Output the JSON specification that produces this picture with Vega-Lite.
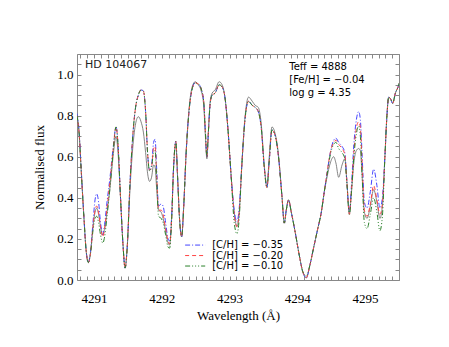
{
  "$schema": "https://vega.github.io/schema/vega-lite/v6.json",
  "width": 322,
  "height": 226,
  "autosize": "none",
  "padding": {"left": 77, "top": 54, "right": 50, "bottom": 67},
  "background": "white",
  "config": {"view": {"stroke": null}},
  "data": {"values": [
    {"wl":4290.750,"obs":0.80,"b":0.81,"r":0.80,"g":0.80},
    {"wl":4290.780,"obs":0.72,"b":0.73,"r":0.72,"g":0.72},
    {"wl":4290.809,"obs":0.55,"b":0.56,"r":0.55,"g":0.55},
    {"wl":4290.853,"obs":0.30,"b":0.30,"r":0.30,"g":0.30},
    {"wl":4290.883,"obs":0.15,"b":0.15,"r":0.15,"g":0.15},
    {"wl":4290.917,"obs":0.085,"b":0.085,"r":0.085,"g":0.085},
    {"wl":4290.949,"obs":0.13,"b":0.14,"r":0.13,"g":0.13},
    {"wl":4290.986,"obs":0.26,"b":0.28,"r":0.26,"g":0.24},
    {"wl":4291.016,"obs":0.33,"b":0.39,"r":0.34,"g":0.30},
    {"wl":4291.041,"obs":0.35,"b":0.42,"r":0.36,"g":0.31},
    {"wl":4291.068,"obs":0.32,"b":0.38,"r":0.33,"g":0.28},
    {"wl":4291.097,"obs":0.26,"b":0.28,"r":0.26,"g":0.22},
    {"wl":4291.130,"obs":0.22,"b":0.22,"r":0.21,"g":0.18},
    {"wl":4291.157,"obs":0.25,"b":0.27,"r":0.25,"g":0.21},
    {"wl":4291.193,"obs":0.33,"b":0.38,"r":0.35,"g":0.31},
    {"wl":4291.237,"obs":0.45,"b":0.50,"r":0.48,"g":0.45},
    {"wl":4291.282,"obs":0.60,"b":0.64,"r":0.63,"g":0.62},
    {"wl":4291.326,"obs":0.70,"b":0.745,"r":0.745,"g":0.745},
    {"wl":4291.355,"obs":0.62,"b":0.66,"r":0.66,"g":0.66},
    {"wl":4291.392,"obs":0.40,"b":0.40,"r":0.40,"g":0.40},
    {"wl":4291.429,"obs":0.17,"b":0.17,"r":0.17,"g":0.17},
    {"wl":4291.459,"obs":0.058,"b":0.058,"r":0.058,"g":0.058},
    {"wl":4291.489,"obs":0.15,"b":0.15,"r":0.15,"g":0.15},
    {"wl":4291.533,"obs":0.45,"b":0.48,"r":0.48,"g":0.48},
    {"wl":4291.577,"obs":0.66,"b":0.72,"r":0.72,"g":0.72},
    {"wl":4291.614,"obs":0.76,"b":0.84,"r":0.84,"g":0.84},
    {"wl":4291.655,"obs":0.795,"b":0.90,"r":0.90,"g":0.90},
    {"wl":4291.695,"obs":0.77,"b":0.925,"r":0.925,"g":0.925},
    {"wl":4291.729,"obs":0.72,"b":0.92,"r":0.92,"g":0.92},
    {"wl":4291.762,"obs":0.62,"b":0.82,"r":0.82,"g":0.82},
    {"wl":4291.791,"obs":0.52,"b":0.62,"r":0.62,"g":0.62},
    {"wl":4291.821,"obs":0.48,"b":0.535,"r":0.535,"g":0.53},
    {"wl":4291.850,"obs":0.50,"b":0.56,"r":0.55,"g":0.55},
    {"wl":4291.880,"obs":0.56,"b":0.67,"r":0.64,"g":0.62},
    {"wl":4291.902,"obs":0.55,"b":0.685,"r":0.65,"g":0.63},
    {"wl":4291.924,"obs":0.45,"b":0.55,"r":0.52,"g":0.50},
    {"wl":4291.953,"obs":0.34,"b":0.36,"r":0.34,"g":0.31},
    {"wl":4291.991,"obs":0.33,"b":0.37,"r":0.34,"g":0.30},
    {"wl":4292.020,"obs":0.30,"b":0.36,"r":0.32,"g":0.28},
    {"wl":4292.057,"obs":0.24,"b":0.28,"r":0.25,"g":0.22},
    {"wl":4292.094,"obs":0.18,"b":0.20,"r":0.19,"g":0.16},
    {"wl":4292.116,"obs":0.17,"b":0.19,"r":0.175,"g":0.155},
    {"wl":4292.146,"obs":0.30,"b":0.31,"r":0.30,"g":0.29},
    {"wl":4292.175,"obs":0.55,"b":0.55,"r":0.55,"g":0.55},
    {"wl":4292.208,"obs":0.66,"b":0.675,"r":0.675,"g":0.675},
    {"wl":4292.234,"obs":0.50,"b":0.50,"r":0.50,"g":0.50},
    {"wl":4292.264,"obs":0.29,"b":0.29,"r":0.29,"g":0.29},
    {"wl":4292.294,"obs":0.21,"b":0.21,"r":0.21,"g":0.21},
    {"wl":4292.323,"obs":0.35,"b":0.35,"r":0.35,"g":0.35},
    {"wl":4292.360,"obs":0.62,"b":0.62,"r":0.62,"g":0.62},
    {"wl":4292.405,"obs":0.84,"b":0.83,"r":0.83,"g":0.83},
    {"wl":4292.449,"obs":0.94,"b":0.93,"r":0.93,"g":0.93},
    {"wl":4292.493,"obs":0.965,"b":0.96,"r":0.96,"g":0.96},
    {"wl":4292.537,"obs":0.95,"b":0.955,"r":0.955,"g":0.955},
    {"wl":4292.582,"obs":0.92,"b":0.93,"r":0.93,"g":0.93},
    {"wl":4292.619,"obs":0.85,"b":0.87,"r":0.87,"g":0.87},
    {"wl":4292.644,"obs":0.70,"b":0.72,"r":0.72,"g":0.72},
    {"wl":4292.666,"obs":0.59,"b":0.60,"r":0.60,"g":0.60},
    {"wl":4292.688,"obs":0.72,"b":0.72,"r":0.72,"g":0.72},
    {"wl":4292.715,"obs":0.87,"b":0.86,"r":0.86,"g":0.86},
    {"wl":4292.744,"obs":0.91,"b":0.90,"r":0.90,"g":0.90},
    {"wl":4292.788,"obs":0.925,"b":0.91,"r":0.91,"g":0.91},
    {"wl":4292.847,"obs":0.965,"b":0.95,"r":0.95,"g":0.95},
    {"wl":4292.891,"obs":0.95,"b":0.94,"r":0.94,"g":0.94},
    {"wl":4292.936,"obs":0.88,"b":0.88,"r":0.88,"g":0.88},
    {"wl":4292.980,"obs":0.72,"b":0.72,"r":0.72,"g":0.72},
    {"wl":4293.025,"obs":0.50,"b":0.50,"r":0.50,"g":0.50},
    {"wl":4293.069,"obs":0.33,"b":0.34,"r":0.32,"g":0.28},
    {"wl":4293.109,"obs":0.26,"b":0.285,"r":0.26,"g":0.225},
    {"wl":4293.143,"obs":0.33,"b":0.35,"r":0.33,"g":0.30},
    {"wl":4293.180,"obs":0.55,"b":0.55,"r":0.55,"g":0.55},
    {"wl":4293.225,"obs":0.78,"b":0.77,"r":0.77,"g":0.77},
    {"wl":4293.280,"obs":0.89,"b":0.87,"r":0.87,"g":0.87},
    {"wl":4293.335,"obs":0.87,"b":0.85,"r":0.85,"g":0.85},
    {"wl":4293.379,"obs":0.85,"b":0.84,"r":0.84,"g":0.84},
    {"wl":4293.424,"obs":0.84,"b":0.82,"r":0.82,"g":0.82},
    {"wl":4293.468,"obs":0.76,"b":0.74,"r":0.74,"g":0.74},
    {"wl":4293.512,"obs":0.56,"b":0.55,"r":0.55,"g":0.55},
    {"wl":4293.552,"obs":0.455,"b":0.45,"r":0.45,"g":0.45},
    {"wl":4293.586,"obs":0.60,"b":0.58,"r":0.58,"g":0.58},
    {"wl":4293.626,"obs":0.745,"b":0.73,"r":0.73,"g":0.73},
    {"wl":4293.667,"obs":0.72,"b":0.71,"r":0.71,"g":0.71},
    {"wl":4293.719,"obs":0.62,"b":0.61,"r":0.61,"g":0.61},
    {"wl":4293.774,"obs":0.405,"b":0.405,"r":0.405,"g":0.405},
    {"wl":4293.808,"obs":0.277,"b":0.277,"r":0.277,"g":0.277},
    {"wl":4293.837,"obs":0.34,"b":0.34,"r":0.34,"g":0.34},
    {"wl":4293.871,"obs":0.39,"b":0.39,"r":0.39,"g":0.39},
    {"wl":4293.911,"obs":0.33,"b":0.33,"r":0.33,"g":0.33},
    {"wl":4293.970,"obs":0.23,"b":0.23,"r":0.23,"g":0.23},
    {"wl":4294.029,"obs":0.12,"b":0.12,"r":0.12,"g":0.12},
    {"wl":4294.081,"obs":0.04,"b":0.04,"r":0.04,"g":0.04},
    {"wl":4294.133,"obs":0.01,"b":0.01,"r":0.012,"g":0.02},
    {"wl":4294.184,"obs":0.07,"b":0.07,"r":0.07,"g":0.07},
    {"wl":4294.236,"obs":0.15,"b":0.15,"r":0.15,"g":0.15},
    {"wl":4294.295,"obs":0.24,"b":0.24,"r":0.24,"g":0.24},
    {"wl":4294.354,"obs":0.33,"b":0.33,"r":0.33,"g":0.33},
    {"wl":4294.398,"obs":0.43,"b":0.43,"r":0.43,"g":0.43},
    {"wl":4294.438,"obs":0.50,"b":0.52,"r":0.52,"g":0.51},
    {"wl":4294.487,"obs":0.57,"b":0.62,"r":0.62,"g":0.61},
    {"wl":4294.536,"obs":0.60,"b":0.68,"r":0.67,"g":0.66},
    {"wl":4294.569,"obs":0.57,"b":0.69,"r":0.68,"g":0.67},
    {"wl":4294.610,"obs":0.50,"b":0.67,"r":0.66,"g":0.64},
    {"wl":4294.660,"obs":0.56,"b":0.65,"r":0.64,"g":0.62},
    {"wl":4294.701,"obs":0.59,"b":0.62,"r":0.61,"g":0.59},
    {"wl":4294.731,"obs":0.48,"b":0.48,"r":0.48,"g":0.47},
    {"wl":4294.768,"obs":0.32,"b":0.33,"r":0.32,"g":0.32},
    {"wl":4294.797,"obs":0.42,"b":0.45,"r":0.43,"g":0.42},
    {"wl":4294.834,"obs":0.57,"b":0.66,"r":0.62,"g":0.60},
    {"wl":4294.871,"obs":0.63,"b":0.78,"r":0.74,"g":0.71},
    {"wl":4294.905,"obs":0.64,"b":0.82,"r":0.77,"g":0.75},
    {"wl":4294.930,"obs":0.63,"b":0.78,"r":0.74,"g":0.70},
    {"wl":4294.957,"obs":0.50,"b":0.60,"r":0.56,"g":0.50},
    {"wl":4294.989,"obs":0.33,"b":0.38,"r":0.34,"g":0.28},
    {"wl":4295.029,"obs":0.30,"b":0.35,"r":0.31,"g":0.25},
    {"wl":4295.077,"obs":0.36,"b":0.43,"r":0.37,"g":0.32},
    {"wl":4295.126,"obs":0.44,"b":0.54,"r":0.46,"g":0.40},
    {"wl":4295.174,"obs":0.38,"b":0.46,"r":0.39,"g":0.33},
    {"wl":4295.218,"obs":0.30,"b":0.35,"r":0.32,"g":0.24},
    {"wl":4295.255,"obs":0.36,"b":0.40,"r":0.37,"g":0.31},
    {"wl":4295.292,"obs":0.60,"b":0.60,"r":0.60,"g":0.60},
    {"wl":4295.322,"obs":0.80,"b":0.80,"r":0.80,"g":0.80},
    {"wl":4295.348,"obs":0.89,"b":0.89,"r":0.89,"g":0.89},
    {"wl":4295.378,"obs":0.88,"b":0.88,"r":0.88,"g":0.88},
    {"wl":4295.407,"obs":0.86,"b":0.86,"r":0.86,"g":0.86},
    {"wl":4295.447,"obs":0.91,"b":0.91,"r":0.91,"g":0.91},
    {"wl":4295.487,"obs":0.94,"b":0.94,"r":0.94,"g":0.94},
    {"wl":4295.506,"obs":0.96,"b":0.96,"r":0.96,"g":0.96}
  ]},
  "resolve": {"axis": {"x": "independent", "y": "independent"}},
  "layer": [
    {
      "mark": {"type": "line", "color": "#666666", "strokeWidth": 0.8, "interpolate": "monotone", "clip": true},
      "encoding": {
        "x": {"field": "wl", "type": "quantitative",
          "scale": {"domain": [4290.75, 4295.5], "nice": false, "zero": false},
          "axis": {"orient": "bottom", "title": "Wavelength (Å)",
            "values": [4290.8,4290.9,4291,4291.1,4291.2,4291.3,4291.4,4291.5,4291.6,4291.7,4291.8,4291.9,4292,4292.1,4292.2,4292.3,4292.4,4292.5,4292.6,4292.7,4292.8,4292.9,4293,4293.1,4293.2,4293.3,4293.4,4293.5,4293.6,4293.7,4293.8,4293.9,4294,4294.1,4294.2,4294.3,4294.4,4294.5,4294.6,4294.7,4294.8,4294.9,4295,4295.1,4295.2,4295.3,4295.4,4295.5],
            "labelExpr": "abs(datum.value - round(datum.value)) < 0.01 ? format(datum.value, 'd') : ''",
            "tickSize": -4, "labelPadding": 16, "domainColor": "#888888", "tickColor": "#888888",
            "labelFont": "Liberation Serif", "labelFontSize": 13, "labelColor": "#000000", "labelOverlap": false,
            "titleFont": "Liberation Serif", "titleFontSize": 13, "titleFontWeight": "normal", "titleColor": "#000000", "titlePadding": 4, "grid": false}
        },
        "y": {"field": "obs", "type": "quantitative",
          "scale": {"domain": [0, 1.1], "nice": false, "zero": false},
          "axis": {"orient": "left", "title": "Normalised flux",
            "values": [0,0.05,0.1,0.15,0.2,0.25,0.3,0.35,0.4,0.45,0.5,0.55,0.6,0.65,0.7,0.75,0.8,0.85,0.9,0.95,1.0,1.05,1.1],
            "labelExpr": "round(datum.value * 20) % 4 == 0 ? format(datum.value, '.1f') : ''",
            "tickSize": -4, "labelPadding": 8, "domainColor": "#888888", "tickColor": "#888888",
            "labelFont": "Liberation Serif", "labelFontSize": 13, "labelColor": "#000000", "labelOverlap": false,
            "titleFont": "Liberation Serif", "titleFontSize": 13, "titleFontWeight": "normal", "titleColor": "#000000", "titlePadding": 10, "grid": false}
        }
      }
    },
    {
      "transform": [{"fold": ["b", "r", "g"], "as": ["model", "flux"]}],
      "mark": {"type": "line", "strokeWidth": 1, "interpolate": "monotone", "clip": true},
      "encoding": {
        "x": {"field": "wl", "type": "quantitative",
          "scale": {"domain": [4290.75, 4295.5], "nice": false, "zero": false},
          "axis": {"orient": "top", "title": null, "labels": false,
            "values": [4290.8,4290.9,4291,4291.1,4291.2,4291.3,4291.4,4291.5,4291.6,4291.7,4291.8,4291.9,4292,4292.1,4292.2,4292.3,4292.4,4292.5,4292.6,4292.7,4292.8,4292.9,4293,4293.1,4293.2,4293.3,4293.4,4293.5,4293.6,4293.7,4293.8,4293.9,4294,4294.1,4294.2,4294.3,4294.4,4294.5,4294.6,4294.7,4294.8,4294.9,4295,4295.1,4295.2,4295.3,4295.4,4295.5],
            "tickSize": -4, "domainColor": "#888888", "tickColor": "#888888", "grid": false}
        },
        "y": {"field": "flux", "type": "quantitative",
          "scale": {"domain": [0, 1.1], "nice": false, "zero": false},
          "axis": {"orient": "right", "title": null, "labels": false,
            "values": [0,0.05,0.1,0.15,0.2,0.25,0.3,0.35,0.4,0.45,0.5,0.55,0.6,0.65,0.7,0.75,0.8,0.85,0.9,0.95,1.0,1.05,1.1],
            "tickSize": -4, "domainColor": "#888888", "tickColor": "#888888", "grid": false}
        },
        "color": {"field": "model", "type": "nominal",
          "scale": {"domain": ["b", "r", "g"], "range": ["#4444ff", "#ff4444", "#2a802a"]},
          "legend": null
        },
        "strokeDash": {"field": "model", "type": "nominal",
          "scale": {"domain": ["b", "r", "g"], "range": [[5, 2, 1, 2], [4, 3], [5, 2, 1, 2, 1, 2, 1, 2]]},
          "legend": null
        }
      }
    },
    {
      "data": {"values": [{}]},
      "mark": {"type": "rule", "color": "#4444ff", "strokeWidth": 1, "strokeDash": [5, 2, 1, 2]},
      "encoding": {
        "x": {"datum": 4292.345, "type": "quantitative", "axis": null},
        "x2": {"datum": 4292.641},
        "y": {"datum": 0.170, "type": "quantitative", "axis": null}
      }
    },
    {
      "data": {"values": [{}]},
      "mark": {"type": "rule", "color": "#ff4444", "strokeWidth": 1, "strokeDash": [4, 3]},
      "encoding": {
        "x": {"datum": 4292.345, "type": "quantitative", "axis": null},
        "x2": {"datum": 4292.641},
        "y": {"datum": 0.119, "type": "quantitative", "axis": null}
      }
    },
    {
      "data": {"values": [{}]},
      "mark": {"type": "rule", "color": "#2a802a", "strokeWidth": 1, "strokeDash": [5, 2, 1, 2, 1, 2, 1, 2]},
      "encoding": {
        "x": {"datum": 4292.345, "type": "quantitative", "axis": null},
        "x2": {"datum": 4292.641},
        "y": {"datum": 0.068, "type": "quantitative", "axis": null}
      }
    },
    {
      "data": {"values": [{}]},
      "mark": {"type": "text", "align": "left", "baseline": "middle", "font": "DejaVu Sans", "fontSize": 10, "lineHeight": 10.5, "color": "#000000"},
      "encoding": {
        "x": {"datum": 4292.744, "type": "quantitative", "axis": null},
        "y": {"datum": 0.170, "type": "quantitative", "axis": null},
        "text": {"value": ["[C/H] = \u22120.35", "[C/H] = \u22120.20", "[C/H] = \u22120.10"]}
      }
    },
    {
      "data": {"values": [{}]},
      "mark": {"type": "text", "align": "left", "baseline": "alphabetic", "font": "DejaVu Sans", "fontSize": 11, "color": "#222222"},
      "encoding": {
        "x": {"datum": 4290.868, "type": "quantitative", "axis": null},
        "y": {"datum": 1.032, "type": "quantitative", "axis": null},
        "text": {"value": "HD  104067"}
      }
    },
    {
      "data": {"values": [{}]},
      "mark": {"type": "text", "align": "left", "baseline": "alphabetic", "font": "DejaVu Sans", "fontSize": 10, "lineHeight": 13, "color": "#000000"},
      "encoding": {
        "x": {"datum": 4293.881, "type": "quantitative", "axis": null},
        "y": {"datum": 1.022, "type": "quantitative", "axis": null},
        "text": {"value": ["Teff = 4888", "[Fe/H] = \u22120.04", "log g = 4.35"]}
      }
    }
  ]
}
